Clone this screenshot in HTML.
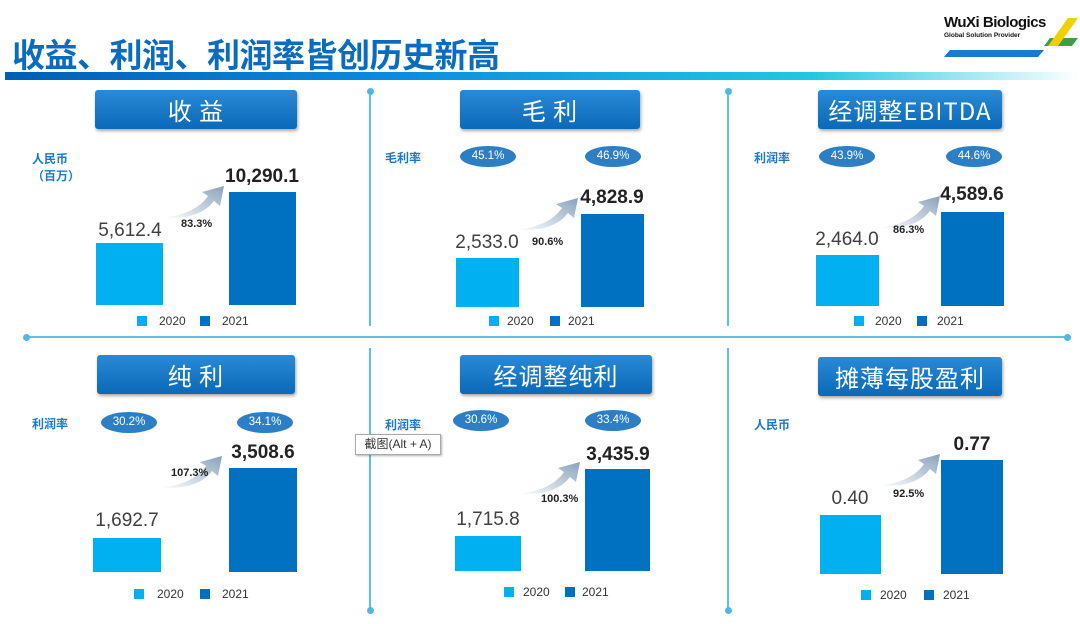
<!DOCTYPE html>
<html><head><meta charset="utf-8"><style>
body{margin:0;width:1080px;height:624px;background:#fff;position:relative;overflow:hidden;font-family:"Liberation Sans","Noto Sans CJK SC",sans-serif}
div{position:absolute}
.t{background:linear-gradient(#2a8ad6,#0a69b8);color:#fff;font-size:24px;text-align:center;border-radius:3px;box-shadow:1px 2px 3px rgba(0,0,0,.35);font-family:"Noto Sans CJK SC",sans-serif;line-height:39px;height:39px;letter-spacing:1px}
.b0{background:#00b0f0}.b1{background:#0070c0}
.v{font-size:19px;color:#404040;text-align:center;width:140px;margin-left:-70px}
.vb{font-weight:bold;color:#222}
.p{font-size:11px;font-weight:bold;color:#222}
.lab{font-size:12px;font-weight:bold;color:#1a7ac8;font-family:"Noto Sans CJK SC",sans-serif;line-height:17px}
.ov{background:#2c7fc4;color:#fff;border-radius:50%;width:56px;height:21px;line-height:21px;text-align:center;font-size:11.5px;margin-left:-28px}
.sq{width:10px;height:10px}
.lg{font-size:12px;color:#333}
.vl{width:2px;background:#5bc0ee}
.dot{width:7px;height:7px;border-radius:50%;background:#4cb8ea}
</style></head><body>
<div style="left:12px;top:31px;font-size:33px;font-weight:bold;color:#0a6cc0;font-family:'Noto Sans CJK SC',sans-serif;line-height:44px;letter-spacing:-0.5px">收益、利润、利润率皆创历史新高</div>
<div style="left:5px;top:72px;width:1075px;height:8px;background:linear-gradient(90deg,#005eb5,#0a8ae0 35%,#20c8e0 75%,#fff)"></div>
<div style="left:944px;top:14px;font-size:15px;font-weight:bold;color:#111;letter-spacing:-0.5px">WuXi Biologics</div>
<div style="left:944px;top:32px;font-size:6.5px;font-weight:bold;color:#111">Global Solution Provider</div>
<svg style="position:absolute;left:940px;top:16px" width="140" height="42"><polygon points="110,22 138,22 132,30 104,30" fill="#3aa040"/><polygon points="128,2 138,2 118,30 108,30" fill="#f0d000"/><polygon points="10,34 104,34 98,41 4,41" fill="#1a7ad0"/></svg>

<div class="vl" style="left:369px;top:92px;height:234px"></div><div class="dot" style="left:367px;top:88px"></div>
<div class="vl" style="left:727px;top:92px;height:234px"></div><div class="dot" style="left:725px;top:88px"></div>
<div style="left:25px;top:336px;width:1043px;height:2px;background:#5bc0ee"></div>
<div class="dot" style="left:23px;top:334px"></div><div class="dot" style="left:1064px;top:334px"></div>
<div class="vl" style="left:369px;top:348px;height:262px"></div><div class="dot" style="left:367px;top:607px"></div>
<div class="vl" style="left:727px;top:348px;height:262px"></div><div class="dot" style="left:725px;top:607px"></div>

<svg style="position:absolute;left:0;top:0" width="1080" height="624">
<defs><linearGradient id="g" x1="0" y1="1" x2="1" y2="0"><stop offset="0" stop-color="#fff"/><stop offset="1" stop-color="#8aa2bc"/></linearGradient>
<path id="a" d="M0,32 Q34,28 46,10 L40,6 L62,0 L58,20 L52,15 Q38,34 0,32Z" fill="url(#g)"/></defs>
<use href="#a" transform="translate(162,186)"/>
<use href="#a" transform="translate(516,198)"/>
<use href="#a" transform="translate(878,196)"/>
<use href="#a" transform="translate(160,456)"/>
<use href="#a" transform="translate(518,462)"/>
<use href="#a" transform="translate(878,454)"/>
</svg>

<div class="t" style="left:95px;top:90px;width:202px">收 益</div>
<div class="lab" style="left:32px;top:150px">人民币<br>（百万）</div>
<div class="b0" style="left:96px;top:243px;width:67px;height:62px"></div>
<div class="b1" style="left:229px;top:192px;width:67px;height:113px"></div>
<div class="v" style="left:130px;top:220px">5,612.4</div>
<div class="v vb" style="left:262px;top:166px">10,290.1</div>
<div class="p" style="left:181px;top:218px">83.3%</div>
<div class="sq b0" style="left:137px;top:316px"></div><div class="lg" style="left:159px;top:314px">2020</div>
<div class="sq b1" style="left:200px;top:316px"></div><div class="lg" style="left:222px;top:314px">2021</div>

<div class="t" style="left:460px;top:90px;width:180px">毛 利</div>
<div class="lab" style="left:385px;top:149px">毛利率</div>
<div class="ov" style="left:488px;top:146px">45.1%</div><div class="ov" style="left:613px;top:146px">46.9%</div>
<div class="b0" style="left:456px;top:258px;width:63px;height:49px"></div>
<div class="b1" style="left:581px;top:214px;width:63px;height:93px"></div>
<div class="v" style="left:487px;top:232px">2,533.0</div>
<div class="v vb" style="left:612px;top:187px">4,828.9</div>
<div class="p" style="left:532px;top:236px">90.6%</div>
<div class="sq b0" style="left:489px;top:316px"></div><div class="lg" style="left:507px;top:314px">2020</div>
<div class="sq b1" style="left:550px;top:316px"></div><div class="lg" style="left:568px;top:314px">2021</div>

<div class="t" style="left:818px;top:90px;width:184px">经调整EBITDA</div>
<div class="lab" style="left:754px;top:149px">利润率</div>
<div class="ov" style="left:847px;top:146px">43.9%</div><div class="ov" style="left:974px;top:146px">44.6%</div>
<div class="b0" style="left:816px;top:255px;width:63px;height:51px"></div>
<div class="b1" style="left:941px;top:212px;width:63px;height:94px"></div>
<div class="v" style="left:847px;top:229px">2,464.0</div>
<div class="v vb" style="left:972px;top:184px">4,589.6</div>
<div class="p" style="left:893px;top:224px">86.3%</div>
<div class="sq b0" style="left:854px;top:316px"></div><div class="lg" style="left:875px;top:314px">2020</div>
<div class="sq b1" style="left:917px;top:316px"></div><div class="lg" style="left:937px;top:314px">2021</div>

<div class="t" style="left:97px;top:355px;width:198px">纯 利</div>
<div class="lab" style="left:32px;top:415px">利润率</div>
<div class="ov" style="left:129px;top:412px">30.2%</div><div class="ov" style="left:265px;top:412px">34.1%</div>
<div class="b0" style="left:93px;top:538px;width:68px;height:34px"></div>
<div class="b1" style="left:229px;top:468px;width:68px;height:104px"></div>
<div class="v" style="left:127px;top:510px">1,692.7</div>
<div class="v vb" style="left:263px;top:442px">3,508.6</div>
<div class="p" style="left:171px;top:467px">107.3%</div>
<div class="sq b0" style="left:134px;top:589px"></div><div class="lg" style="left:157px;top:587px">2020</div>
<div class="sq b1" style="left:200px;top:589px"></div><div class="lg" style="left:222px;top:587px">2021</div>

<div class="t" style="left:460px;top:355px;width:192px">经调整纯利</div>
<div class="lab" style="left:385px;top:416px">利润率</div>
<div class="ov" style="left:481px;top:410px">30.6%</div><div class="ov" style="left:613px;top:410px">33.4%</div>
<div class="b0" style="left:455px;top:536px;width:66px;height:35px"></div>
<div class="b1" style="left:585px;top:469px;width:65px;height:102px"></div>
<div class="v" style="left:488px;top:509px">1,715.8</div>
<div class="v vb" style="left:618px;top:444px">3,435.9</div>
<div class="p" style="left:541px;top:493px">100.3%</div>
<div class="sq b0" style="left:504px;top:587px"></div><div class="lg" style="left:523px;top:585px">2020</div>
<div class="sq b1" style="left:565px;top:587px"></div><div class="lg" style="left:582px;top:585px">2021</div>
<div style="left:355px;top:434px;width:84px;height:19px;border:1px solid #aaa;background:#fff;box-shadow:1px 1px 2px rgba(0,0,0,.3);font-size:12px;color:#333;line-height:19px;text-align:center;font-family:'Liberation Sans','Noto Sans CJK SC',sans-serif">截图(Alt + A)</div>

<div class="t" style="left:818px;top:357px;width:184px">摊薄每股盈利</div>
<div class="lab" style="left:754px;top:416px">人民币</div>
<div class="b0" style="left:820px;top:515px;width:61px;height:59px"></div>
<div class="b1" style="left:941px;top:460px;width:62px;height:114px"></div>
<div class="v" style="left:850px;top:488px">0.40</div>
<div class="v vb" style="left:972px;top:434px">0.77</div>
<div class="p" style="left:893px;top:488px">92.5%</div>
<div class="sq b0" style="left:861px;top:590px"></div><div class="lg" style="left:880px;top:588px">2020</div>
<div class="sq b1" style="left:924px;top:590px"></div><div class="lg" style="left:943px;top:588px">2021</div>
</body></html>
